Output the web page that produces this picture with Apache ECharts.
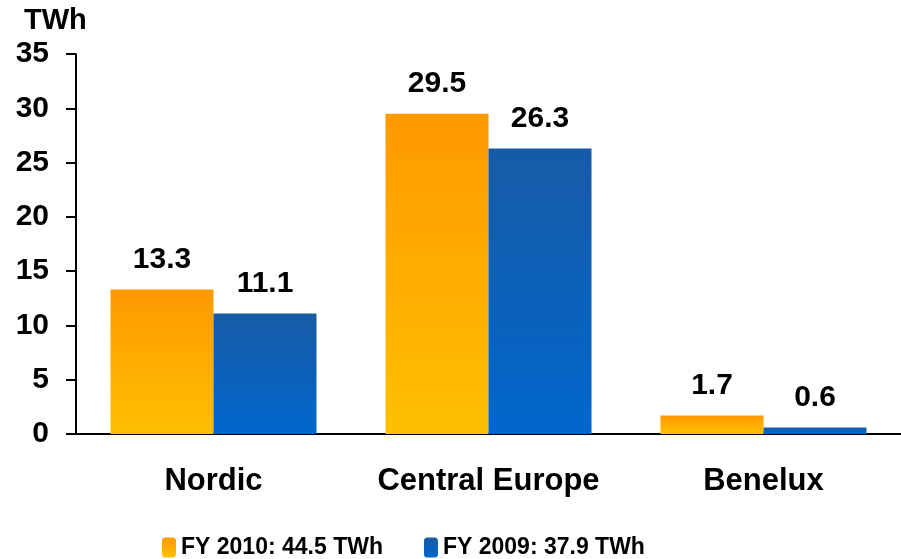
<!DOCTYPE html>
<html>
<head>
<meta charset="utf-8">
<style>
  html, body { margin: 0; padding: 0; background: #fff; }
  #chart { width: 901px; height: 559px; }
</style>
<script src="https://cdn.jsdelivr.net/npm/echarts@6/dist/echarts.min.js"></script>
</head>
<body>
<div id="chart"></div>
<script>
const categories = ["Nordic", "Central Europe", "Benelux"];
const fy2010 = [13.3, 29.5, 1.7];
const fy2009 = [11.1, 26.3, 0.6];
const legendNames = ["FY 2010: 44.5 TWh", "FY 2009: 37.9 TWh"];
const unitLabel = "TWh";

const font = "'Liberation Sans', Arial, sans-serif";

function grad(top, bottom) {
  return new echarts.graphic.LinearGradient(0, 0, 0, 1, [
    { offset: 0, color: top },
    { offset: 1, color: bottom },
  ]);
}

const myChart = echarts.init(document.getElementById("chart"));

const labelStyle = {
  show: true,
  position: "top",
  distance: 15,
  color: "#000",
  fontFamily: font,
  fontWeight: "bold",
  fontSize: 30,
};

myChart.setOption({
  animation: false,
  title: {
    text: unitLabel,
    left: 19,
    top: 1,
    textStyle: { fontFamily: font, fontWeight: "bold", fontSize: 29, color: "#000" },
  },
  grid: {
    left: 76,
    top: 54,
    width: 828,
    bottom: 125,
  },
  legend: {
    left: 157,
    top: 531,
    itemWidth: 14,
    itemHeight: 20,
    itemGap: 41,
    textStyle: { fontFamily: font, fontWeight: "bold", fontSize: 23, color: "#000" },
    data: legendNames,
  },
  xAxis: {
    type: "category",
    data: categories,
    axisLine: { lineStyle: { color: "#000", width: 2 } },
    axisTick: { length: 10, lineStyle: { color: "#000", width: 2 } },
    axisLabel: {
      interval: 0,
      margin: 32,
      color: "#000",
      fontFamily: font,
      fontWeight: "bold",
      fontSize: 31,
    },
  },
  yAxis: {
    type: "value",
    min: 0,
    max: 35,
    interval: 5,
    splitLine: { show: false },
    axisLine: { show: true, lineStyle: { color: "#000", width: 2 } },
    axisTick: { show: true, length: 10, lineStyle: { color: "#000", width: 2 } },
    axisLabel: {
      margin: 27,
      color: "#000",
      fontFamily: font,
      fontWeight: "bold",
      fontSize: 30,
    },
  },
  series: [
    {
      name: legendNames[0],
      type: "bar",
      data: fy2010,
      barWidth: 103,
      barGap: "0%",
      itemStyle: { color: grad("#FF9900", "#FFC000") },
      label: labelStyle,
    },
    {
      name: legendNames[1],
      type: "bar",
      data: fy2009,
      barWidth: 103,
      barGap: "0%",
      itemStyle: { color: grad("#175BA6", "#0066CC") },
      label: labelStyle,
    },
  ],
});
</script>
</body>
</html>
